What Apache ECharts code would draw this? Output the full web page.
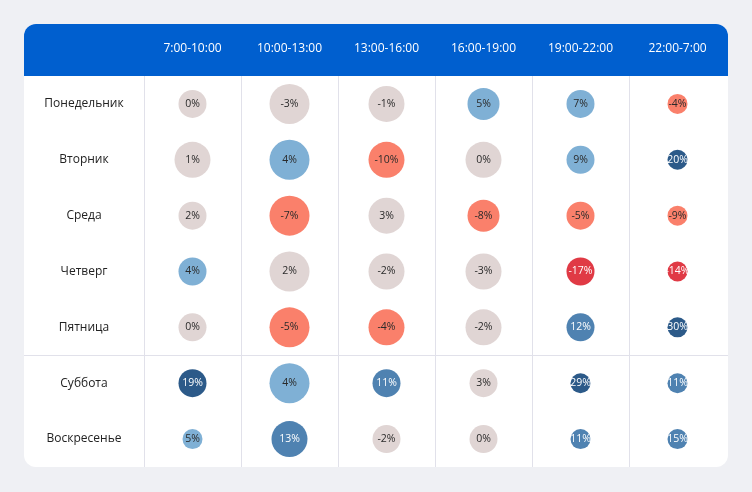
<!DOCTYPE html>
<html>
<head>
<meta charset="utf-8">
<script src="https://cdn.jsdelivr.net/npm/echarts@6/dist/echarts.min.js"></script>
<style>
html,body{margin:0;padding:0;background:#eff0f4;}
#chart{width:752px;height:492px;}
</style>
</head>
<body>
<div id="chart"></div>
<script>
const days = ['Понедельник','Вторник','Среда','Четверг','Пятница','Суббота','Воскресенье'];
const slots = ['7:00-10:00','10:00-13:00','13:00-16:00','16:00-19:00','19:00-22:00','22:00-7:00'];
// change, % (rows = days, columns = time slots)
const changes = [
  [0, -3, -1, 5, 7, -4],
  [1, 4, -10, 0, 9, 20],
  [2, -7, 3, -8, -5, -9],
  [4, 2, -2, -3, -17, -14],
  [0, -5, -4, -2, 12, 30],
  [19, 4, 11, 3, 29, 11],
  [5, 13, -2, 0, 11, 15]
];
// relative volume (bubble size weight)
const volume = [
  [7, 10, 9, 8, 7, 5],
  [9, 10, 9, 9, 7, 5],
  [7, 10, 9, 8, 7, 5],
  [7, 10, 9, 9, 7, 5],
  [7, 10, 9, 9, 7, 5],
  [7, 10, 7, 7, 5, 5],
  [5, 9, 7, 7, 5, 5]
];

function colorFor(v){
  if (v >= 16) return ['#2c5a89', '#ffffff'];
  if (v >= 10) return ['#4f82b1', '#ffffff'];
  if (v >= 4) return ['#7fb0d5', '#2a2a2a'];
  if (v > -4) return ['#e0d5d4', '#2a2a2a'];
  if (v > -12) return ['#fa806b', '#2a2a2a'];
  return ['#e03a45', '#ffffff'];
}

const data = [];
days.forEach((d, r) => {
  slots.forEach((s, c) => {
    const v = changes[r][c];
    const col = colorFor(v);
    data.push({
      value: [c, r, v, volume[r][c]],
      itemStyle: { color: col[0], opacity: 1 },
      label: { color: col[1] }
    });
  });
});

const lineColors = slots.map(() => '#e1e1ea').concat(['rgba(0,0,0,0)']);

const chart = echarts.init(document.getElementById('chart'));
const FONT = '"Open Sans", sans-serif';
chart.setOption({
  backgroundColor: '#eff0f4',
  animation: false,
  graphic: [
    { type: 'rect', z: -10, shape: { x: 24, y: 24, width: 704, height: 443, r: 12 }, style: { fill: '#ffffff' } },
    { type: 'rect', z: -9, shape: { x: 24, y: 24, width: 704, height: 52, r: [12, 12, 0, 0] }, style: { fill: '#005fcf' } },
    { type: 'line', z: -8, shape: { x1: 24, y1: 355.5, x2: 728, y2: 355.5 }, style: { stroke: '#e1e1ea', lineWidth: 1 } }
  ],
  grid: { left: 144, right: 26, top: 76, bottom: 25 },
  xAxis: {
    type: 'category',
    data: slots,
    position: 'top',
    axisLine: { show: false },
    axisTick: { show: false },
    axisLabel: { color: '#ffffff', fontSize: 12, fontFamily: FONT, margin: 27, verticalAlign: 'middle' },
    splitLine: { show: true, interval: 0, lineStyle: { color: lineColors, width: 1 } }
  },
  yAxis: {
    type: 'category',
    data: days,
    inverse: true,
    axisLine: { show: false },
    axisTick: { show: false },
    axisLabel: { color: '#222222', fontSize: 12, fontFamily: FONT, margin: 60, align: 'center' },
    splitLine: { show: false }
  },
  series: [{
    type: 'scatter',
    data: data,
    symbolSize: function (val) { return val[3] * 4; },
    itemStyle: { opacity: 1 },
    label: {
      show: true,
      position: 'inside',
      fontSize: 10.5,
      fontFamily: FONT,
      formatter: function (p) { return p.value[2] + '%'; }
    },
    emphasis: { disabled: true }
  }]
});
</script>
</body>
</html>
